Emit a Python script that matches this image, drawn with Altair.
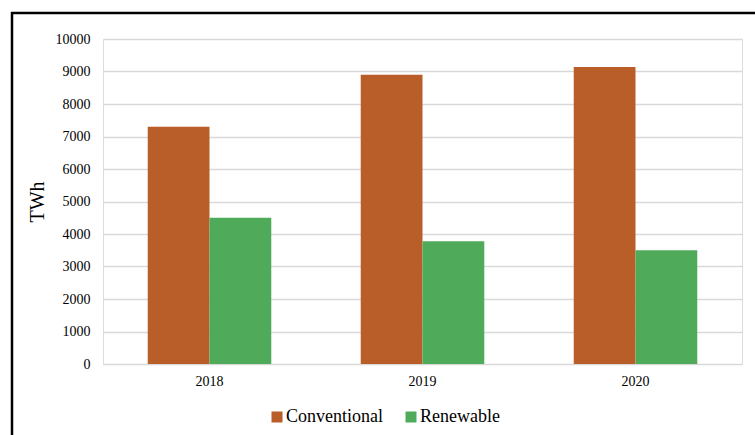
import altair as alt
import pandas as pd

years = ["2018", "2019", "2020"]
conventional = [7300, 8900, 9140]
renewable = [4500, 3780, 3500]
series = ["Conventional", "Renewable"]
colors = ["#B95E29", "#4FAA5A"]
y_ticks = list(range(0, 10001, 1000))

rows = []
for i, y in enumerate(years):
    rows.append({"year": y, "type": series[0], "value": conventional[i]})
    rows.append({"year": y, "type": series[1], "value": renewable[i]})
df = pd.DataFrame(rows)

FONT = "Liberation Serif"

bars = alt.Chart(df).mark_bar().encode(
    x=alt.X("year:N", title=None,
            scale=alt.Scale(paddingInner=0.42, paddingOuter=0.21),
            axis=alt.Axis(labelAngle=0, ticks=False, domain=True, domainColor="#d9d9d9",
                          labelFont=FONT, labelFontSize=14, labelColor="#000000",
                          labelPadding=10, grid=False)),
    xOffset=alt.XOffset("type:N", scale=alt.Scale(paddingInner=0, paddingOuter=0)),
    y=alt.Y("value:Q", title="TWh",
            scale=alt.Scale(domain=[0, 10000], nice=False),
            axis=alt.Axis(values=y_ticks, format="d", ticks=False, domain=False,
                          gridColor="#d9d9d9", gridWidth=1.3,
                          labelFont=FONT, labelFontSize=14, labelColor="#000000",
                          labelPadding=13, titleFont=FONT, titleFontSize=20,
                          titleFontWeight="normal", titleColor="#000000",
                          titlePadding=8)),
    color=alt.Color("type:N", title=None,
                    scale=alt.Scale(domain=series, range=colors),
                    legend=alt.Legend(orient="none", direction="horizontal",
                                      legendX=165, legendY=369, padding=0,
                                      symbolType="square", symbolSize=121,
                                      symbolStrokeWidth=0, labelFont=FONT,
                                      labelFontSize=18, labelColor="#000000",
                                      labelOffset=0, columnPadding=19)),
)

frame_df = pd.DataFrame({"a": [0]})
top_line = alt.Chart(frame_df).mark_rule(color="#000000", strokeWidth=2.5).encode(
    x=alt.value(-92), x2=alt.value(652), y=alt.value(-26))
left_line = alt.Chart(frame_df).mark_rule(color="#000000", strokeWidth=2.5).encode(
    x=alt.value(-91), y=alt.value(-27), y2=alt.value(396))

chart = alt.layer(bars, top_line, left_line).properties(
    width=639, height=325,
    autosize=alt.AutoSizeParams(type="none"),
    padding={"left": 103, "top": 39, "right": 13, "bottom": 71},
    background="#ffffff",
).configure_view(stroke=None).configure_legend(
    labelFont=FONT, labelFontSize=18, labelColor="#000000"
).configure(font=FONT)

chart.save("out.html", embed_options={"renderer": "svg", "actions": False})
